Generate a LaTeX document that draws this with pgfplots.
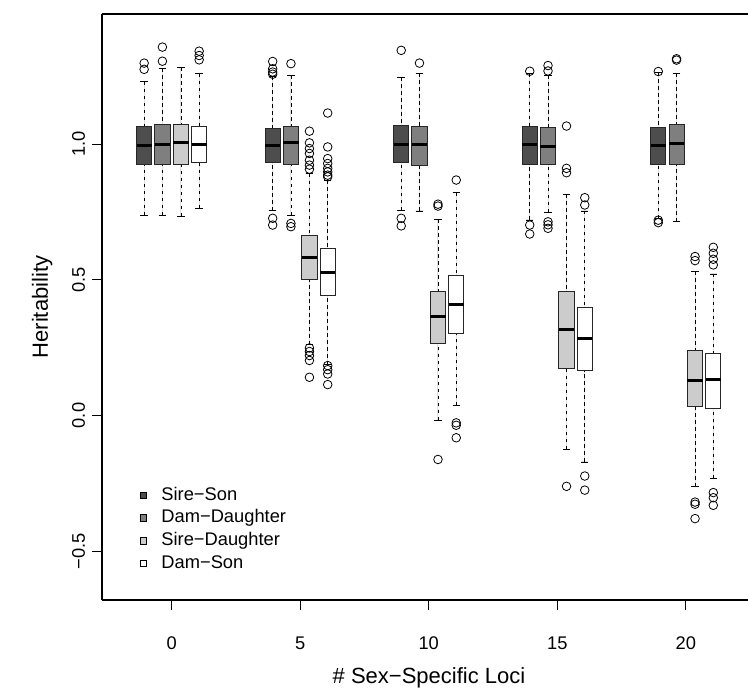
\documentclass[border=0pt]{standalone}
\usepackage{fontspec}
\setmainfont{Liberation Sans}
\usepackage{pgfplots}
\pgfplotsset{compat=1.18}
\usepgfplotslibrary{statistics}
\definecolor{cSS}{HTML}{4D4D4D}
\definecolor{cDD}{HTML}{7F7F7F}
\definecolor{cSD}{HTML}{CCCCCC}
\definecolor{cDS}{HTML}{FFFFFF}
\pgfplotsset{
  boxplot/draw direction=y,
  boxplot/box extend=0.59,
  boxplot/whisker extend=0.29,
  boxplot/every median/.style={line width=3bp, draw=black},
  boxplot/draw/lower whisker/.code={%
    \draw[black, line width=0.8bp, dash pattern=on 3.5bp off 3.5bp]
      (boxplot cs:\pgfplotsboxplotvalue{lower whisker}) --
      (boxplot cs:\pgfplotsboxplotvalue{lower quartile});
    \draw[black, line width=0.8bp]
      (boxplot whisker cs:\pgfplotsboxplotvalue{lower whisker},0) --
      (boxplot whisker cs:\pgfplotsboxplotvalue{lower whisker},1);
  },
  boxplot/draw/upper whisker/.code={%
    \draw[black, line width=0.8bp, dash pattern=on 3.5bp off 3.5bp]
      (boxplot cs:\pgfplotsboxplotvalue{upper whisker}) --
      (boxplot cs:\pgfplotsboxplotvalue{upper quartile});
    \draw[black, line width=0.8bp]
      (boxplot whisker cs:\pgfplotsboxplotvalue{upper whisker},0) --
      (boxplot whisker cs:\pgfplotsboxplotvalue{upper whisker},1);
  },
  bp/.style={draw=black!85, line width=0.9bp, mark=o, mark size=4.3bp,
    mark options={draw=black, fill=none, solid, line width=0.8bp}, forget plot},
}
\begin{document}
\begin{tikzpicture}
\useasboundingbox (-102bp,-90bp) rectangle (646bp,600bp);
\begin{axis}[
  at={(0,0)}, anchor=south west,
  scale only axis, width=646bp, height=586bp,
  xmin=-2.71, xmax=22.42, ymin=-0.68, ymax=1.48,
  axis x line*=box, axis y line*=left,
  axis line style={line width=1.6bp, black},
  xtick={0,5,10,15,20}, ytick={-0.5,0,0.5,1},
  yticklabels={−0.5,0.0,0.5,1.0},
  xtick pos=bottom, ytick pos=left,
  tick align=outside, major tick length=10bp,
  tick style={black, line width=1bp},
  /pgf/number format/assume math mode=true,
  tick label style={font=\fontsize{18.3bp}{22bp}\selectfont},
  xticklabel style={anchor=north, inner sep=0pt, yshift=-27bp},
  yticklabel style={rotate=90, anchor=base, inner sep=0pt, yshift=7bp},
  xlabel={\# Sex−Specific Loci},
  ylabel={Heritability},
  label style={font=\fontsize{22bp}{26bp}\selectfont},
  xlabel style={at={(axis description cs:0.5062,0)}, anchor=base, inner sep=0pt, yshift=-83bp},
  ylabel style={at={(axis description cs:0,0.5)}, anchor=base, inner sep=0pt, yshift=54bp},
  legend cell align=left,
  legend style={at={(axis cs:-1.245,-0.263)}, anchor=north west, draw=none, fill=none,
    inner sep=0pt, outer sep=0pt, font=\fontsize{18.3bp}{22bp}\selectfont,
    row sep=5.6bp,
    nodes={inner sep=0pt, text height=13.2bp, text depth=3.9bp},
    /tikz/every odd column/.append style={column sep=14.4bp}},
]
\addlegendimage{legend image code/.code={\draw[fill=cSS, draw=black, line width=0.8bp] (-3.3bp,-3.3bp) rectangle (3.3bp,3.3bp);}}
\addlegendentry{Sire−Son}
\addlegendimage{legend image code/.code={\draw[fill=cDD, draw=black, line width=0.8bp] (-3.3bp,-3.3bp) rectangle (3.3bp,3.3bp);}}
\addlegendentry{Dam−Daughter}
\addlegendimage{legend image code/.code={\draw[fill=cSD, draw=black, line width=0.8bp] (-3.3bp,-3.3bp) rectangle (3.3bp,3.3bp);}}
\addlegendentry{Sire−Daughter}
\addlegendimage{legend image code/.code={\draw[fill=cDS, draw=black, line width=0.8bp] (-3.3bp,-3.3bp) rectangle (3.3bp,3.3bp);}}
\addlegendentry{Dam−Son}

% ---- 0 loci
\addplot[bp, fill=cSS, boxplot prepared={draw position=-1.07, lower whisker=0.739, lower quartile=0.926, median=0.995, upper quartile=1.064, upper whisker=1.23}] coordinates {(0,1.299) (0,1.276)};
\addplot[bp, fill=cDD, boxplot prepared={draw position=-0.36, lower whisker=0.739, lower quartile=0.926, median=1.0, upper quartile=1.072, upper whisker=1.28}] coordinates {(0,1.358) (0,1.306)};
\addplot[bp, fill=cSD, boxplot prepared={draw position=0.36, lower whisker=0.735, lower quartile=0.926, median=1.005, upper quartile=1.072, upper whisker=1.284}] coordinates {};
\addplot[bp, fill=cDS, boxplot prepared={draw position=1.07, lower whisker=0.764, lower quartile=0.931, median=1.0, upper quartile=1.067, upper whisker=1.26}] coordinates {(0,1.343) (0,1.327) (0,1.311)};
% ---- 5 loci
\addplot[bp, fill=cSS, boxplot prepared={draw position=3.93, lower whisker=0.755, lower quartile=0.931, median=0.994, upper quartile=1.058, upper whisker=1.250}] coordinates {(0,1.305) (0,1.278) (0,1.266) (0,1.258) (0,0.727) (0,0.702)};
\addplot[bp, fill=cDD, boxplot prepared={draw position=4.64, lower whisker=0.739, lower quartile=0.926, median=1.005, upper quartile=1.067, upper whisker=1.254}] coordinates {(0,1.297) (0,0.708) (0,0.696)};
\addplot[bp, fill=cSD, boxplot prepared={draw position=5.36, lower whisker=0.261, lower quartile=0.502, median=0.583, upper quartile=0.663, upper whisker=0.892}] coordinates {(0,1.048) (0,1.005) (0,0.984) (0,0.966) (0,0.941) (0,0.923) (0,0.908) (0,0.249) (0,0.236) (0,0.221) (0,0.203) (0,0.141)};
\addplot[bp, fill=cDS, boxplot prepared={draw position=6.07, lower whisker=0.188, lower quartile=0.442, median=0.527, upper quartile=0.617, upper whisker=0.868}] coordinates {(0,1.115) (0,0.99) (0,0.947) (0,0.929) (0,0.911) (0,0.898) (0,0.886) (0,0.880) (0,0.184) (0,0.169) (0,0.153) (0,0.114)};
% ---- 10 loci
\addplot[bp, fill=cSS, boxplot prepared={draw position=8.93, lower whisker=0.757, lower quartile=0.933, median=1.0, upper quartile=1.07, upper whisker=1.247}] coordinates {(0,1.346) (0,0.727) (0,0.699)};
\addplot[bp, fill=cDD, boxplot prepared={draw position=9.64, lower whisker=0.754, lower quartile=0.92, median=1.0, upper quartile=1.066, upper whisker=1.262}] coordinates {(0,1.299)};
\addplot[bp, fill=cSD, boxplot prepared={draw position=10.36, lower whisker=-0.017, lower quartile=0.267, median=0.365, upper quartile=0.457, upper whisker=0.723}] coordinates {(0,0.779) (0,0.772) (0,-0.162)};
\addplot[bp, fill=cDS, boxplot prepared={draw position=11.07, lower whisker=0.037, lower quartile=0.304, median=0.411, upper quartile=0.515, upper whisker=0.822}] coordinates {(0,0.868) (0,-0.027) (0,-0.036) (0,-0.082)};
% ---- 15 loci
\addplot[bp, fill=cSS, boxplot prepared={draw position=13.93, lower whisker=0.721, lower quartile=0.926, median=0.999, upper quartile=1.064, upper whisker=1.26}] coordinates {(0,1.269) (0,0.702) (0,0.669)};
\addplot[bp, fill=cDD, boxplot prepared={draw position=14.64, lower whisker=0.75, lower quartile=0.925, median=0.993, upper quartile=1.06, upper whisker=1.254}] coordinates {(0,1.29) (0,1.27) (0,0.714) (0,0.703) (0,0.69)};
\addplot[bp, fill=cSD, boxplot prepared={draw position=15.36, lower whisker=-0.124, lower quartile=0.175, median=0.316, upper quartile=0.457, upper whisker=0.815}] coordinates {(0,1.067) (0,0.911) (0,0.895) (0,-0.261)};
\addplot[bp, fill=cDS, boxplot prepared={draw position=16.07, lower whisker=-0.171, lower quartile=0.165, median=0.285, upper quartile=0.398, upper whisker=0.754}] coordinates {(0,0.803) (0,0.776) (0,-0.223) (0,-0.275)};
% ---- 20 loci
\addplot[bp, fill=cSS, boxplot prepared={draw position=18.93, lower whisker=0.727, lower quartile=0.926, median=0.994, upper quartile=1.061, upper whisker=1.266}] coordinates {(0,1.268) (0,0.72) (0,0.711)};
\addplot[bp, fill=cDD, boxplot prepared={draw position=19.64, lower whisker=0.714, lower quartile=0.926, median=1.002, upper quartile=1.072, upper whisker=1.262}] coordinates {(0,1.315) (0,1.31)};
\addplot[bp, fill=cSD, boxplot prepared={draw position=20.36, lower whisker=-0.262, lower quartile=0.032, median=0.13, upper quartile=0.239, upper whisker=0.531}] coordinates {(0,0.586) (0,0.571) (0,-0.319) (0,-0.327) (0,-0.380)};
\addplot[bp, fill=cDS, boxplot prepared={draw position=21.07, lower whisker=-0.232, lower quartile=0.026, median=0.132, upper quartile=0.228, upper whisker=0.522}] coordinates {(0,0.62) (0,0.598) (0,0.576) (0,0.555) (0,-0.284) (0,-0.303) (0,-0.331)};
\end{axis}
\end{tikzpicture}
\end{document}
